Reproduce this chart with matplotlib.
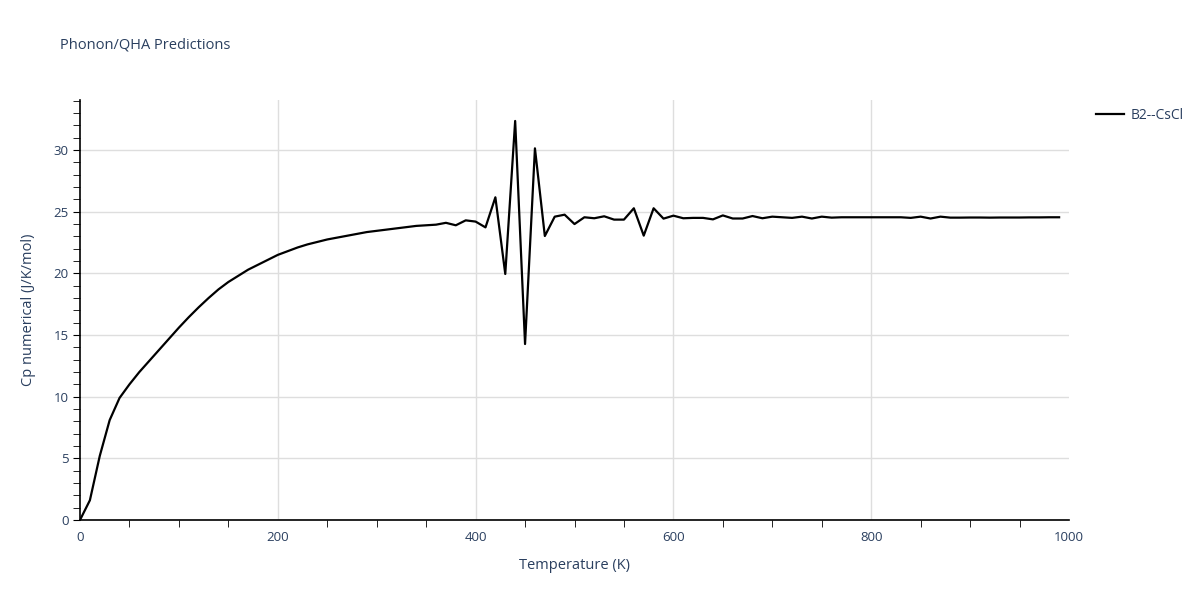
import numpy as np
import matplotlib
matplotlib.use("Agg")
from matplotlib import pyplot as plt
from matplotlib.ticker import MultipleLocator

# temperature grid (K) and heat capacity
temperature = list(range(0, 1000, 10))
cp_low = [0.0, 1.6, 5.2, 8.1, 9.9, 11.0, 12.0, 12.9, 13.8, 14.7,
          15.6, 16.45, 17.25, 18.0, 18.7, 19.3, 19.8, 20.3, 20.7, 21.1,
          21.5, 21.8, 22.1, 22.35, 22.55, 22.75, 22.9, 23.05, 23.2, 23.35,
          23.45, 23.55, 23.65, 23.75, 23.85, 23.9, 23.95, 24.1, 23.9, 24.3]
cp_mid = [24.2, 23.73, 26.17, 19.95, 32.36, 14.27, 30.14, 23.03, 24.6, 24.76,
          24.0, 24.55, 24.47, 24.63, 24.36, 24.36, 25.28, 23.06, 25.28, 24.44,
          24.68, 24.47, 24.5, 24.5, 24.38, 24.7, 24.45, 24.45, 24.65, 24.47]
cp_high = [24.6, 24.55, 24.5, 24.6, 24.45, 24.6, 24.52, 24.55, 24.55, 24.55,
           24.55, 24.55, 24.55, 24.55, 24.5, 24.6, 24.45, 24.6, 24.52, 24.52,
           24.53, 24.53, 24.52, 24.53, 24.53, 24.53, 24.54, 24.54, 24.55, 24.55]
cp = cp_low + cp_mid + cp_high
label = "B2--CsCl"

TEXT = "#2a3f5f"
GRID = "#dedede"
plt.rcParams["font.family"] = ["Open Sans", "DejaVu Sans"]

fig = plt.figure(figsize=(12, 6), dpi=100)
ax = fig.add_axes([80 / 1200, 80 / 600, 989 / 1200, 420 / 600])

ax.plot(temperature, cp, color="black", lw=1.6, label=label)

ax.set_xlim(0, 1000)
ax.set_ylim(0, 34.06)
ax.xaxis.set_major_locator(MultipleLocator(200))
ax.xaxis.set_minor_locator(MultipleLocator(50))
ax.yaxis.set_major_locator(MultipleLocator(5))
ax.yaxis.set_minor_locator(MultipleLocator(1))
ax.tick_params(axis="x", which="major", length=0, pad=8, labelsize=9.5, labelcolor=TEXT)
ax.tick_params(axis="x", which="minor", length=5, color="black")
ax.tick_params(axis="y", which="major", length=5, pad=3, labelsize=9.5, labelcolor=TEXT)
ax.tick_params(axis="y", which="minor", length=5, color="black")

# horizontal grid from the axis, vertical ones only inside the frame
ax.grid(True, axis="y", which="major", color=GRID, lw=1)
for t in ax.get_xticks():
    if 0 < t < 1000:
        ax.axvline(t, color=GRID, lw=1, zorder=0)
ax.set_axisbelow(True)
for side in ("top", "right"):
    ax.spines[side].set_visible(False)
for side in ("left", "bottom"):
    ax.spines[side].set_color("black")
    ax.spines[side].set_linewidth(1.2)

ax.set_xlabel("Temperature (K)", fontsize=10.5, color=TEXT, labelpad=10)
ax.set_ylabel("Cp numerical (J/K/mol)", fontsize=10.5, color=TEXT, labelpad=13)
fig.text(60 / 1200, 1 - 45 / 600, "Phonon/QHA Predictions", fontsize=10.5,
         color=TEXT, va="center", ha="left")

ax.legend(loc="upper left", bbox_to_anchor=(1.019, 1.0), frameon=False,
          fontsize=10, labelcolor=TEXT, handlelength=2.0, handletextpad=0.5,
          borderaxespad=0.2)

fig.savefig("out.png", dpi=100)
